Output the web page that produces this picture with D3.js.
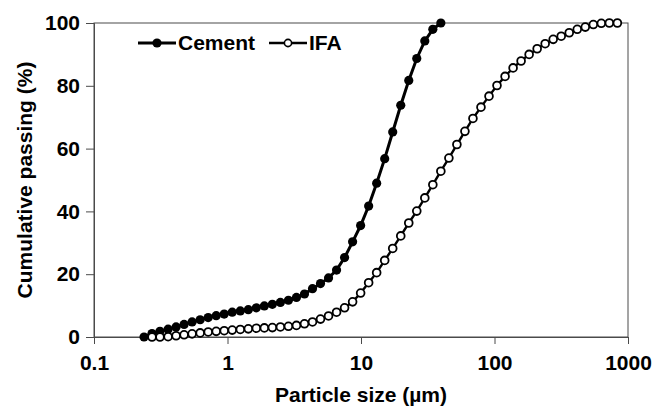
<!DOCTYPE html>
<html>
<head>
	<meta charset="utf-8">
	<title>particleSize</title>
	<style>
		body { margin: 0; background-color: white; }
		text { font-family: 'Liberation Sans', Arial, sans-serif; font-weight: bold; }
	</style>
</head>
<body>

<div id="dataviz"></div>

<script src="https://d3js.org/d3.v7.min.js"></script>
<script>

	// cumulative passing
	var sizeCement = [0.237, 0.272, 0.312, 0.359, 0.412, 0.473, 0.543, 0.624, 0.717, 0.823, 0.945, 1.085, 1.247, 1.432, 1.644, 1.888, 2.168, 2.490, 2.860, 3.284, 3.772, 4.331, 4.974, 5.712, 6.560, 7.534, 8.652, 9.936, 11.41, 13.10, 15.05, 17.28, 19.85, 22.79, 26.17, 30.06, 34.52, 39.64];
	var passCement = [0, 1.1, 1.8, 2.5, 3.2, 4.0, 4.8, 5.5, 6.2, 6.8, 7.3, 7.9, 8.3, 8.7, 9.3, 9.9, 10.4, 11.0, 11.7, 12.6, 13.7, 15.4, 17.0, 18.8, 21.3, 25.3, 30.3, 35.5, 41.7, 49.0, 56.8, 65.3, 73.8, 81.7, 88.7, 94.3, 98.0, 100];

	var sizeIFA = [0.272, 0.312, 0.359, 0.412, 0.473, 0.543, 0.624, 0.717, 0.823, 0.945, 1.085, 1.247, 1.432, 1.644, 1.888, 2.168, 2.490, 2.860, 3.284, 3.772, 4.331, 4.974, 5.712, 6.560, 7.534, 8.652, 9.936, 11.41, 13.10, 15.05, 17.28, 19.85, 22.79, 26.17, 30.06, 34.52, 39.64, 45.53, 52.28, 60.04, 68.95, 79.19, 90.95, 104.4, 120.0, 137.8, 158.2, 181.7, 208.7, 239.6, 275.2, 316.0, 362.9, 416.8, 478.6, 549.7, 631.2, 724.9, 832.5];
	var passIFA = [0, 0, 0.1, 0.4, 0.7, 1.0, 1.3, 1.6, 1.8, 2.0, 2.2, 2.4, 2.6, 2.8, 2.9, 3.0, 3.2, 3.4, 3.7, 4.2, 4.8, 5.7, 6.7, 7.9, 9.3, 11.2, 14.0, 17.3, 20.5, 24.4, 28.2, 32.2, 36.3, 40.1, 44.3, 48.5, 52.8, 57.0, 61.3, 65.5, 69.6, 73.2, 76.7, 80.1, 83.0, 85.7, 87.9, 90.0, 91.8, 93.4, 94.8, 95.8, 96.9, 98.0, 98.7, 99.5, 99.9, 100, 100];

	var xTicks = [0.1, 1, 10, 100, 1000];
	var xTickLabels = ['0.1', '1', '10', '100', '1000'];
	var yTicks = [0, 20, 40, 60, 80, 100];

	var width = 665;
	var height = 408;
	var margin = {top: 23, right: 37, bottom: 71, left: 94};

	var svg = d3.select('#dataviz')
		.append('svg')
		.attr('width', width)
		.attr('height', height)
		;

	var x = d3.scaleLog().domain([0.1, 1000]).range([margin.left, width - margin.right]);
	var y = d3.scaleLinear().domain([0, 100]).range([height - margin.bottom, margin.top]);

	// frame
	svg.append('rect')
		.attr('x', margin.left)
		.attr('y', margin.top)
		.attr('width', width - margin.left - margin.right)
		.attr('height', height - margin.top - margin.bottom)
		.attr('fill', 'none')
		.attr('stroke', '#4a4a4a')
		.attr('stroke-width', 1)
		;

	var xAxis = svg.append('g')
		.attr('transform', 'translate(0,' + (height - margin.bottom) + ')')
		.call(d3.axisBottom(x).tickValues(xTicks).tickFormat(function(d, i){ return xTickLabels[i]; }).tickSize(7).tickPadding(11))
		;

	var yAxis = svg.append('g')
		.attr('transform', 'translate(' + margin.left + ',0)')
		.call(d3.axisLeft(y).tickValues(yTicks).tickSize(8).tickPadding(6))
		;

	svg.selectAll('.domain').attr('stroke', '#4a4a4a');
	svg.selectAll('.tick line').attr('stroke', '#4a4a4a');
	svg.selectAll('.tick text')
		.attr('font-size', 21)
		.attr('font-family', "'Liberation Sans', Arial, sans-serif")
		.attr('font-weight', 'bold')
		.attr('fill', 'black')
		;

	// axis titles
	svg.append('text')
		.attr('x', (margin.left + width - margin.right) / 2)
		.attr('y', 402)
		.attr('text-anchor', 'middle')
		.attr('font-size', 21)
		.text('Particle size (\u00b5m)')
		;

	svg.append('text')
		.attr('transform', 'translate(32,' + ((margin.top + height - margin.bottom) / 2) + ') rotate(-90)')
		.attr('text-anchor', 'middle')
		.attr('font-size', 21)
		.text('Cumulative passing (%)')
		;

	var line = d3.line()
		.x(function(d){ return x(d[0]); })
		.y(function(d){ return y(d[1]); })
		;

	var cement = sizeCement.map(function(s, i){ return [s, passCement[i]]; });
	var ifa = sizeIFA.map(function(s, i){ return [s, passIFA[i]]; });

	svg.append('path')
		.attr('d', line(cement))
		.attr('fill', 'none')
		.attr('stroke', 'black')
		.attr('stroke-width', 3)
		;

	svg.selectAll('.cementDots')
		.data(cement)
		.enter()
		.append('circle')
		.attr('class', 'cementDots')
		.attr('cx', function(d){ return x(d[0]); })
		.attr('cy', function(d){ return y(d[1]); })
		.attr('r', 4.6)
		.attr('fill', 'black')
		;

	svg.append('path')
		.attr('d', line(ifa))
		.attr('fill', 'none')
		.attr('stroke', 'black')
		.attr('stroke-width', 2.4)
		;

	svg.selectAll('.ifaDots')
		.data(ifa)
		.enter()
		.append('circle')
		.attr('class', 'ifaDots')
		.attr('cx', function(d){ return x(d[0]); })
		.attr('cy', function(d){ return y(d[1]); })
		.attr('r', 3.9)
		.attr('fill', 'white')
		.attr('stroke', 'black')
		.attr('stroke-width', 1.8)
		;

	// legend
	var legend = svg.append('g');

	legend.append('line')
		.attr('x1', 138).attr('x2', 176)
		.attr('y1', 43).attr('y2', 43)
		.attr('stroke', 'black').attr('stroke-width', 3);
	legend.append('circle')
		.attr('cx', 157).attr('cy', 43).attr('r', 4.6)
		.attr('fill', 'black');
	legend.append('text')
		.attr('x', 178).attr('y', 50)
		.attr('font-size', 21)
		.text('Cement');

	legend.append('line')
		.attr('x1', 269).attr('x2', 307)
		.attr('y1', 43).attr('y2', 43)
		.attr('stroke', 'black').attr('stroke-width', 2.4);
	legend.append('circle')
		.attr('cx', 288).attr('cy', 43).attr('r', 3.6)
		.attr('fill', 'white').attr('stroke', 'black').attr('stroke-width', 1.6);
	legend.append('text')
		.attr('x', 309).attr('y', 50)
		.attr('font-size', 21)
		.text('IFA');

</script>

</body>
</html>
